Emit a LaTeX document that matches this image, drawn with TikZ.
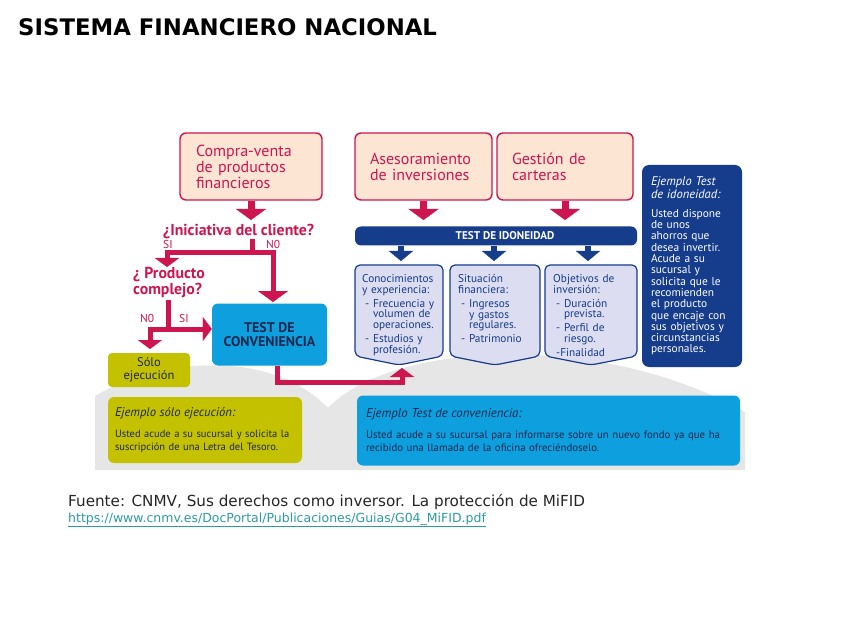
\documentclass[tikz,border=0pt]{standalone}
\usepackage{fontspec}
\setmainfont{PT Sans}
\newfontfamily\verd{DejaVu Sans}
\usetikzlibrary{arrows.meta}
\definecolor{crim}{RGB}{205,22,80}
\definecolor{peach}{RGB}{253,229,212}
\definecolor{cblue}{RGB}{14,160,222}
\definecolor{navy}{RGB}{22,60,140}
\definecolor{lav}{RGB}{220,221,240}
\definecolor{olive}{RGB}{196,193,0}
\definecolor{bggray}{RGB}{230,230,230}
\definecolor{dtext}{RGB}{30,40,80}
\definecolor{linkc}{RGB}{45,155,165}
\newcommand\hangA{\hspace*{3pt}\hphantom{- }}
\newcommand\indA{\hspace*{3pt}}
\begin{document}
\begin{tikzpicture}[x=1pt,y=-1pt,
  pbox/.style={draw=crim, line width=1.4pt, fill=peach, rounded corners=6pt, text=crim,
    font=\fontsize{16}{16}\selectfont, align=left, inner ysep=0pt, minimum height=67pt},
  carrow/.style={draw=crim, line width=7pt, -{Triangle[width=30pt,length=11pt,line width=0.1pt]}},
  cline/.style={draw=crim, line width=5pt},
  carrowS/.style={cline, -{Triangle[width=24pt,length=9pt,line width=0.1pt]}},
  narrow/.style={draw=navy, line width=6pt, -{Triangle[width=24pt,length=10pt,line width=0.1pt]}},
  qtext/.style={text=crim, font=\bfseries\fontsize{15.8}{16}\selectfont, inner sep=0pt},
  lbl/.style={text=crim, font=\fontsize{11.5}{12}\selectfont, inner sep=0pt, anchor=base west},
  lavshape/.style={draw=navy, line width=1.2pt, fill=lav, rounded corners=5pt},
  lavtext/.style={text=navy, font=\fontsize{11.3}{10.9}\selectfont, align=left, inner sep=0pt, anchor=north west, text width=86pt},
  exbox/.style={rounded corners=6pt, inner ysep=0pt, align=left, text=dtext}
]
\useasboundingbox (0,0) rectangle (848,628);
\fill[white] (0,0) rectangle (848,628);

% grey background hills
\fill[bggray] (95,470) -- (95,396) .. controls (160,358) and (270,348) .. (328,408)
  .. controls (390,342) and (600,330) .. (745,412) -- (745,470) -- cycle;

% title
\node[anchor=base west, inner sep=0pt, font=\verd\bfseries\fontsize{22.8}{26}\selectfont] (title) at (18,36) {SISTEMA FINANCIERO NACIONAL};

% top pink boxes
\node[pbox, minimum width=142pt, inner xsep=16pt, text width=110pt] (compra) at (251,166.5) {Compra-venta\\de productos\\financieros};
\node[pbox, minimum width=137pt, inner xsep=15pt, text width=107pt] (ases) at (423.5,166.5) {Asesoramiento\\de inversiones};
\node[pbox, minimum width=136pt, inner xsep=15pt, text width=106pt] (gest) at (565,166.5) {Gestión de\\carteras};

% left decision flow
\coordinate (a1) at (251,220);
\draw[carrow] (compra.south) -- (a1);
\node[qtext, anchor=base west] (ini) at (163,235.5) {¿Iniciativa del cliente?};
\node[lbl] (si1) at (163,249) {SI};
\node[lbl] (no1) at (266,249) {N0};
\coordinate (b0) at (252,239);
\coordinate (b1) at (252,253);
\coordinate (bl) at (167,267);
\coordinate (br) at (273,302);
\draw[cline] (b0) -- (b1);
\draw[carrowS] (b1) -| (bl);
\draw[carrow, line width=5pt] (b1) -| (br);

\node[qtext, anchor=north west, align=left, font=\bfseries\fontsize{15.8}{16}\selectfont] (comp) at (133,267.5) {¿ Producto\\complejo?};
\node[lbl] (no2) at (140,322) {N0};
\node[lbl] (si2) at (179,322) {SI};

\node[fill=cblue, rounded corners=6pt, minimum width=115pt, minimum height=62pt, align=center,
  text=dtext, font=\bfseries\fontsize{14}{14}\selectfont] (tdc) at (269.5,334.5) {TEST DE\\CONVENIENCIA};
\node[fill=olive, rounded corners=4pt, minimum width=82pt, minimum height=34pt, align=center,
  text=dtext, font=\fontsize{12.5}{13}\selectfont] (solo) at (149,370) {Sólo\\ejecución};

\coordinate (c0) at (168,300);
\coordinate (c1) at (168,329);
\coordinate (cl) at (150,349);
\draw[cline] (c0) -- (c1);
\draw[carrowS] (c1) -| (cl);
\draw[carrowS] (c1) -- (tdc.west |- c1);

% idoneidad
\node[fill=navy, rounded corners=6pt, minimum width=282pt, minimum height=19pt, inner sep=0pt,
  text=white, font=\bfseries\fontsize{11.2}{12}\selectfont] (tdi) at (496,236) {\hspace*{18pt}TEST DE IDONEIDAD};
\coordinate (a2) at (423.5,220);
\coordinate (a3) at (565,220);
\draw[carrow] (ases.south) -- (a2);
\draw[carrow] (gest.south) -- (a3);

\coordinate (n1) at (401,261);
\coordinate (n2) at (494,261);
\coordinate (n3) at (588,261);
\draw[narrow] (tdi.south -| n1) -- (n1);
\draw[narrow] (tdi.south -| n2) -- (n2);
\draw[narrow] (tdi.south -| n3) -- (n3);

% lavender boxes
\filldraw[lavshape] (355,265) -- (443,265) -- (443,356) -- (399,365) -- (355,356) -- cycle;
\filldraw[lavshape] (450,265) -- (540,265) -- (540,356) -- (495,365) -- (450,356) -- cycle;
\filldraw[lavshape] (545,265) -- (637,265) -- (637,356) -- (591,365) -- (545,356) -- cycle;

\node[lavtext] (k1) at (362,274) {Conocimientos\\y experiencia:\\[3pt]
  \indA- Frecuencia y\\\hangA volumen de\\\hangA operaciones.\\[3pt]
  \indA- Estudios y\\\hangA profesión.};
\node[lavtext] (k2) at (458,274) {Situación\\financiera:\\[3pt]
  \indA- Ingresos\\\hangA y gastos\\\hangA regulares.\\[3pt]
  \indA- Patrimonio};
\node[lavtext] (k3) at (553,274) {Objetivos de\\inversión:\\[3pt]
  \indA- Duración\\\hangA prevista.\\[3pt]
  \indA- Perfil de\\\hangA riesgo.\\[3pt]
  \indA-Finalidad};

\coordinate (e1) at (402,382);
\coordinate (e2) at (402,368);
\draw[carrowS] ([xshift=7.5pt]tdc.south) |- (e1) -- (e2);

% example idoneidad
\node[fill=navy, rounded corners=7pt, minimum width=98pt, minimum height=202pt, inner xsep=9pt,
  text width=82pt, align=left, text=white, font=\fontsize{11.4}{11.3}\selectfont] (eid) at (692,266)
  {{\itshape\fontsize{12.5}{10}\selectfont Ejemplo Test\\de idoneidad:\par}\vspace{8pt}
   Usted dispone\\de unos\\ahorros que\\desea invertir.\\Acude a su\\sucursal y\\solicita que le\\recomienden\\el producto\\que encaje con\\sus objetivos y\\circunstancias\\personales.};

% example boxes
\node[exbox, fill=olive, minimum width=194pt, minimum height=66pt, inner xsep=7pt, text width=180pt,
  font=\fontsize{10.5}{13}\selectfont] (exs) at (205,430)
  {{\itshape\fontsize{12.6}{13}\selectfont Ejemplo sólo ejecución:\par}\vspace{8pt}
   Usted acude a su sucursal y solicita la\\suscripción de una Letra del Tesoro.};
\node[exbox, fill=cblue, minimum width=383pt, minimum height=70pt, inner xsep=9pt, text width=365pt,
  font=\fontsize{10.8}{13.5}\selectfont] (exc) at (548.5,430.5)
  {{\itshape\fontsize{12.8}{13}\selectfont Ejemplo Test de conveniencia:\par}\vspace{7pt}
   Usted acude a su sucursal para informarse sobre un nuevo fondo ya que ha\\recibido una llamada de la oficina ofreciéndoselo.};

% source
\node[anchor=base west, inner sep=0pt, text=black!85, font=\verd\fontsize{15.2}{16}\selectfont] (src) at (68,506)
  {Fuente: CNMV, Sus derechos como inversor. La protección de MiFID};
\node[anchor=base west, inner sep=0pt, text=linkc, font=\verd\fontsize{12.5}{13}\selectfont] (url) at (68,522)
  {\underline{https://www.cnmv.es/DocPortal/Publicaciones/Guias/G04\_MiFID.pdf}};
\end{tikzpicture}
\end{document}
